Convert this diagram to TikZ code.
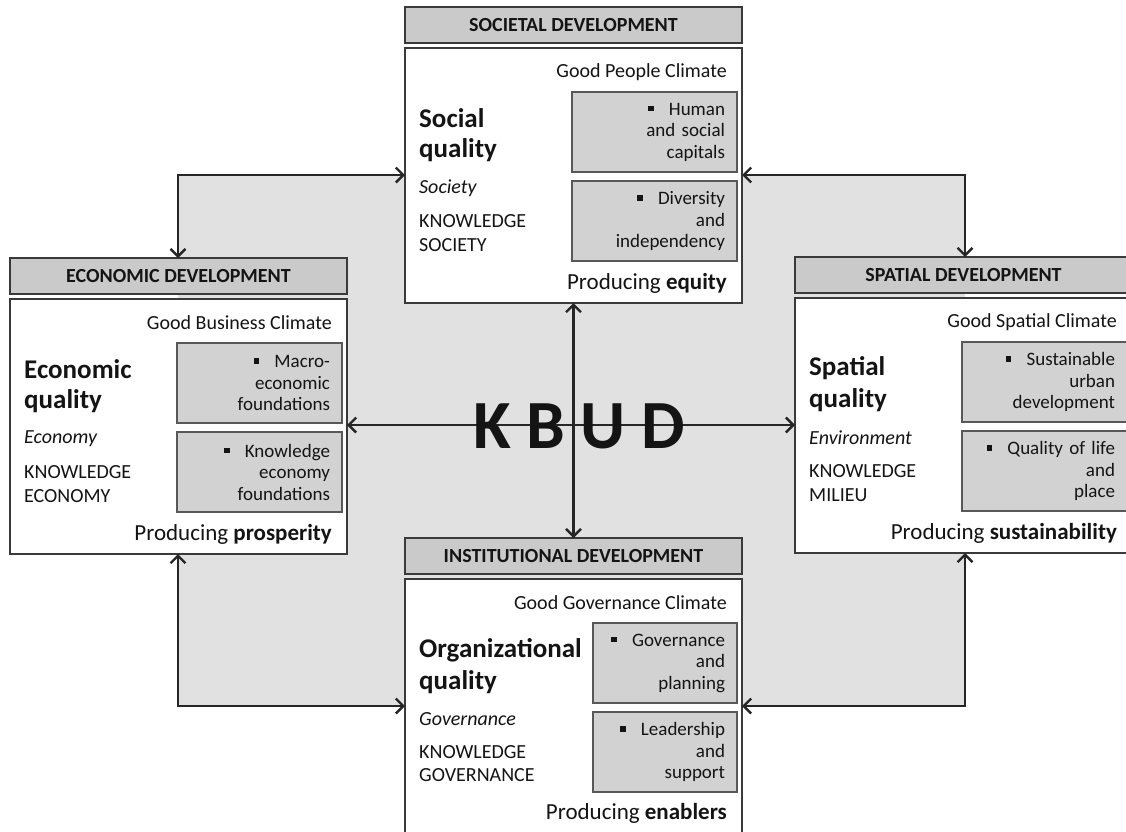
\documentclass[tikz,border=0pt]{standalone}
\usepackage{fontspec}
\setmainfont{Carlito}
\usetikzlibrary{arrows.meta}

\definecolor{bgfill}{HTML}{E1E1E1}
\definecolor{hdfill}{HTML}{CACACA}
\definecolor{infill}{HTML}{D2D2D2}
\definecolor{edge}{HTML}{3A3A3A}
\definecolor{arrowink}{HTML}{262626}
\definecolor{ink}{HTML}{141414}

% small square bullet
\newcommand\sqb{\rule[0.2em]{0.3em}{0.3em}\hspace{0.8em}}

\tikzset{
  body/.style={draw=edge, line width=1.6pt, fill=white, minimum width=337pt,
    minimum height=255pt, anchor=north west, inner sep=0pt, outer sep=0pt},
  header/.style={draw=edge, line width=1.6pt, fill=hdfill, minimum width=337pt,
    minimum height=36pt, anchor=north west, inner sep=0pt, outer sep=0pt,
    font=\fontsize{20}{22}\selectfont\bfseries, text=ink},
  inbox/.style={draw=edge!85, line width=1.2pt, fill=infill, minimum height=80pt,
    anchor=north west, inner xsep=12pt, inner ysep=0pt, outer sep=0pt, align=right,
    font=\fontsize{19}{21.5}\selectfont, text=ink},
  climate/.style={anchor=east, inner sep=0pt, font=\fontsize{20}{24}\selectfont, text=ink},
  produce/.style={anchor=east, inner sep=0pt, font=\fontsize{23}{27}\selectfont, text=ink},
  qtitle/.style={anchor=west, inner sep=0pt, font=\fontsize{27}{32}\selectfont\bfseries, text=ink},
  domtext/.style={anchor=west, inner sep=0pt, font=\fontsize{20}{24}\selectfont\itshape, text=ink},
  kword/.style={anchor=west, inner sep=0pt, font=\fontsize{20}{24}\selectfont, text=ink},
  link/.style={draw=arrowink, line width=2.4pt,
    {Straight Barb[length=7.5pt,width=15pt]}-{Straight Barb[length=7.5pt,width=15pt]}},
}

\begin{document}
\begin{tikzpicture}[x=1pt,y=-1pt]
\useasboundingbox (0,0) rectangle (1126,831);

% corners of the outer loop of arrows
\coordinate (cTL) at (178,175);
\coordinate (cTR) at (965,175);
\coordinate (cBL) at (178,706);
\coordinate (cBR) at (965,706);
\coordinate (ctr) at (573.5,425);

\fill[bgfill] (cTL) rectangle (cBR);

% societal development
\begin{scope}[shift={(405,48)}]
  \node[body] (socB) at (0,0) {};
  \node[header] (socH) at (0,-41) {SOCIETAL DEVELOPMENT};
  \node[climate] (socC) at (322,24) {Good People Climate};
  \node[inbox, text width=141pt] (socI1) at (167,44) {\sqb Human\\and social\\capitals};
  \node[inbox, text width=141pt] (socI2) at (167,133) {\sqb Diversity\\and\\independency};
  \node[produce] (socP) at (322,235) {Producing \textbf{equity}};
  \node[qtitle] (socT1) at (14,70) {Social};
  \node[qtitle] (socT2) at (14,102) {quality};
  \node[domtext] (socD) at (14,140) {Society};
  \node[kword] (socK1) at (14,173) {KNOWLEDGE};
  \node[kword] (socK2) at (14,197) {SOCIETY};
\end{scope}

% economic development
\begin{scope}[shift={(10,299)}]
  \node[body] (ecoB) at (0,0) {};
  \node[header] (ecoH) at (0,-41) {ECONOMIC DEVELOPMENT};
  \node[climate] (ecoC) at (322,24) {Good Business Climate};
  \node[inbox, text width=141pt] (ecoI1) at (167,44) {\sqb Macro-\\economic\\foundations};
  \node[inbox, text width=141pt] (ecoI2) at (167,133) {\sqb Knowledge\\economy\\foundations};
  \node[produce] (ecoP) at (322,235) {Producing \textbf{prosperity}};
  \node[qtitle] (ecoT1) at (14,70) {Economic};
  \node[qtitle] (ecoT2) at (14,102) {quality};
  \node[domtext] (ecoD) at (14,140) {Economy};
  \node[kword] (ecoK1) at (14,173) {KNOWLEDGE};
  \node[kword] (ecoK2) at (14,197) {ECONOMY};
\end{scope}

% spatial development
\begin{scope}[shift={(795,298)}]
  \node[body] (spaB) at (0,0) {};
  \node[header] (spaH) at (0,-41) {SPATIAL DEVELOPMENT};
  \node[climate] (spaC) at (322,24) {Good Spatial Climate};
  \node[inbox, text width=141pt] (spaI1) at (167,44) {\sqb Sustainable\\urban\\development};
  \node[inbox, text width=141pt] (spaI2) at (167,133) {\sqb Quality of life\\and\\place};
  \node[produce] (spaP) at (322,235) {Producing \textbf{sustainability}};
  \node[qtitle] (spaT1) at (14,70) {Spatial};
  \node[qtitle] (spaT2) at (14,102) {quality};
  \node[domtext] (spaD) at (14,140) {Environment};
  \node[kword] (spaK1) at (14,173) {KNOWLEDGE};
  \node[kword] (spaK2) at (14,197) {MILIEU};
\end{scope}

% institutional development
\begin{scope}[shift={(405,579)}]
  \node[body] (insB) at (0,0) {};
  \node[header] (insH) at (0,-41) {INSTITUTIONAL DEVELOPMENT};
  \node[climate] (insC) at (322,24) {Good Governance Climate};
  \node[inbox, text width=120pt] (insI1) at (188,44) {\sqb Governance\\and\\planning};
  \node[inbox, text width=120pt] (insI2) at (188,133) {\sqb Leadership\\and\\support};
  \node[produce] (insP) at (322,234) {Producing \textbf{enablers}};
  \node[qtitle] (insT1) at (14,71) {Organizational};
  \node[qtitle] (insT2) at (14,103) {quality};
  \node[domtext] (insD) at (14,140) {Governance};
  \node[kword] (insK1) at (14,173) {KNOWLEDGE};
  \node[kword] (insK2) at (14,196) {GOVERNANCE};
\end{scope}

% outer loop of two-way arrows
\draw[link] (cTL -| socB.west) -- (cTL) -- (cTL |- ecoH.north);
\draw[link] (cTR -| socB.east) -- (cTR) -- (cTR |- spaH.north);
\draw[link] (cBL |- ecoB.south) -- (cBL) -- (cBL -| insB.west);
\draw[link] (cBR |- spaB.south) -- (cBR) -- (cBR -| insB.east);

% central cross
\draw[link] (ctr -| ecoB.east) -- (ctr -| spaB.west);
\draw[link] (socB.south) -- (insH.north);

\node[font=\fontsize{69}{72}\selectfont\bfseries, text=ink, inner sep=0pt] (kbud) at (579,426) {K B U D};
\end{tikzpicture}
\end{document}
